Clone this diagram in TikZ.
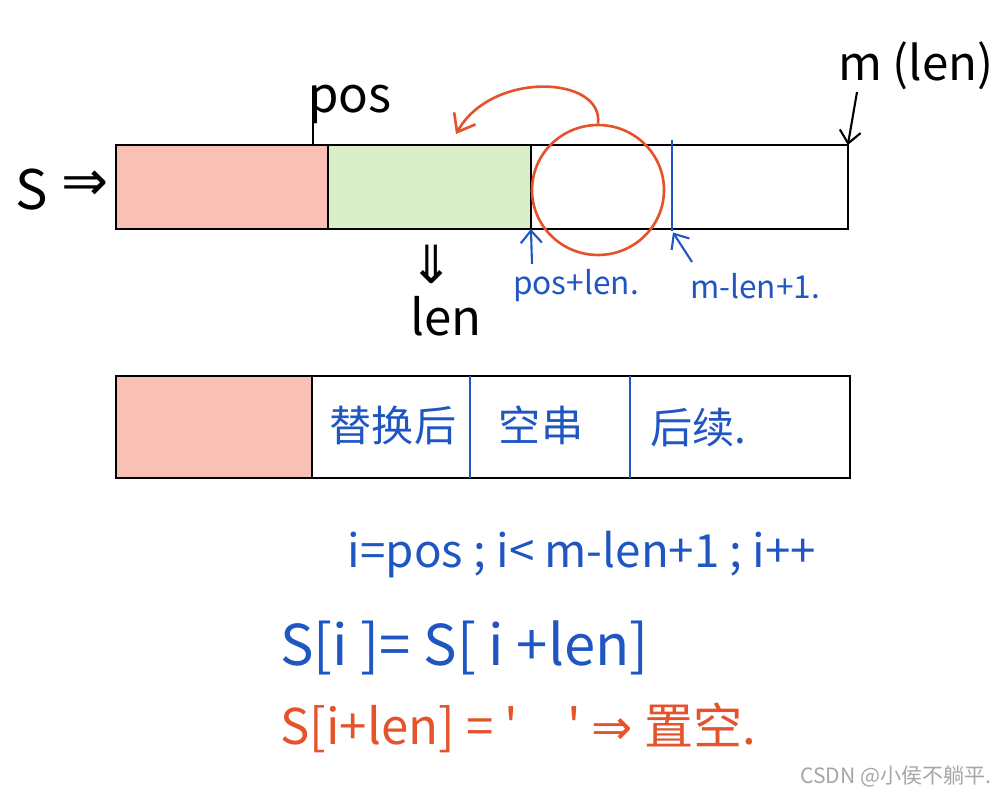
\documentclass[tikz,border=0pt]{standalone}
\usepackage{fontspec}
\setmainfont{Noto Sans CJK SC}
\newfontfamily\symfont{DejaVu Sans}
\usepackage{xcolor}
\definecolor{inkBlue}{HTML}{1F56C2}
\definecolor{inkRed}{HTML}{E4532B}
\definecolor{headRed}{HTML}{F9C1B5}
\definecolor{lenGreen}{HTML}{D9EEC9}
\usetikzlibrary{arrows.meta, positioning, shapes.geometric}

\begin{document}
\begin{tikzpicture}[
		x=0.02cm, y=-0.02cm,
		seg/.style={
			draw,
			line width=1.2pt,
			minimum height=1.68cm,
			inner sep=0pt,
			outer sep=0pt
		},
		hand/.style={inner sep=0pt, font=\fontsize{28}{30}\selectfont},
		bluehand/.style={inner sep=0pt, text=inkBlue, font=\fontsize{18}{20}\selectfont},
		redhand/.style={inner sep=0pt, text=inkRed, font=\fontsize{28}{30}\selectfont},
		arrow/.style={-{Straight Barb[length=7pt,width=12pt]}, line width=1.2pt},
		bluearrow/.style={arrow, draw=inkBlue},
		blueline/.style={draw=inkBlue, line width=1.4pt}
		]
		
		\useasboundingbox (0,0) rectangle (1006,793);
		
		\node[seg, fill=headRed, minimum width=4.24cm, anchor=north west] (head) at (116,145) {};
		\node[seg, fill=lenGreen, minimum width=4.06cm, right=0pt of head] (old) {};
		\node[seg, fill=white, minimum width=6.34cm, right=0pt of old] (tail) {};
		
		\node[hand, font=\fontsize{31}{33}\selectfont] (s) at (32,190) {S};
		\node[hand, font=\symfont\fontsize{32}{34}\selectfont] (into) at (85,186) {⇒};
		
		\node[hand] (pos) at (350,104) {pos};
		\draw[line width=1.2pt] (313,86) -- (313,145);
		
		\node[hand, font=\symfont\fontsize{30}{32}\selectfont] (down) at (432,264) {⇓};
		\node[hand] (len) at (446,316) {len};
		
		\node[hand, font=\fontsize{27}{29}\selectfont] (mlen) at (916,66) {m (len)};
		\coordinate (mtop) at (857,92);
		\draw[arrow] (mtop) -- (tail.north east);
		
		\coordinate (cuttop) at (672,140);
		\coordinate (cutbot) at (672,231);
		\draw[blueline] (cuttop) -- (cutbot);
		
		\node[draw=inkRed, line width=1.5pt, ellipse, minimum width=2.64cm, minimum height=2.6cm] (ring) at (598,190) {};
		\coordinate (landing) at (456,134);
		\draw[draw=inkRed, line width=1.5pt, -{Straight Barb[length=9pt,width=14pt]}] (ring.north) .. controls (604,76) and (492,70) .. (landing);
		
		\node[bluehand] (plen) at (576,286) {pos+len.};
		\coordinate (pfoot) at (532,264);
		\draw[bluearrow] (pfoot) -- (old.south east);
		
		\node[bluehand] (mlen1) at (755,286) {m-len+1.};
		\coordinate (mfoot) at (692,262);
		\draw[bluearrow, shorten >=1pt] (mfoot) -- (cutbot);
		
		\node[seg, fill=headRed, minimum width=3.92cm, minimum height=2.04cm, anchor=north west] (keep) at (116,376) {};
		\node[seg, fill=white, minimum width=3.16cm, minimum height=2.04cm, right=0pt of keep] (moved) {};
		\node[seg, fill=white, minimum width=3.2cm, minimum height=2.04cm, right=0pt of moved] (blank) {};
		\node[seg, fill=white, minimum width=4.4cm, minimum height=2.04cm, right=0pt of blank] (rest) {};
		\draw[blueline] (moved.north east) -- (moved.south east);
		\draw[blueline] (blank.north east) -- (blank.south east);
		
		\node[bluehand, font=\fontsize{24}{26}\selectfont] (movedtxt) at (393,425) {替换后};
		\node[bluehand, font=\fontsize{24}{26}\selectfont] (blanktxt) at (541,425) {空串};
		\node[bluehand, font=\fontsize{24}{26}\selectfont, anchor=west] (resttxt) at (650,428) {后续.};
		
		\node[bluehand, font=\fontsize{26}{28}\selectfont] (loop) at (582,555) {i=pos ; i< m-len+1 ; i++};
		\node[bluehand, font=\fontsize{32}{34}\selectfont, anchor=west] (shift) at (280,648) {S[i ]= S[ i +len]};
		\node[redhand, anchor=west] (clear) at (280,728) {S[i+len] = \textquotesingle\quad\textquotesingle\ {\symfont ⇒} 置空.};
		
		\node[inner sep=0pt, text=gray!70, font=\fontsize{12}{14}\selectfont, anchor=east] (mark) at (992,776) {CSDN @小侯不躺平.};
		
	\end{tikzpicture}
\end{document}
